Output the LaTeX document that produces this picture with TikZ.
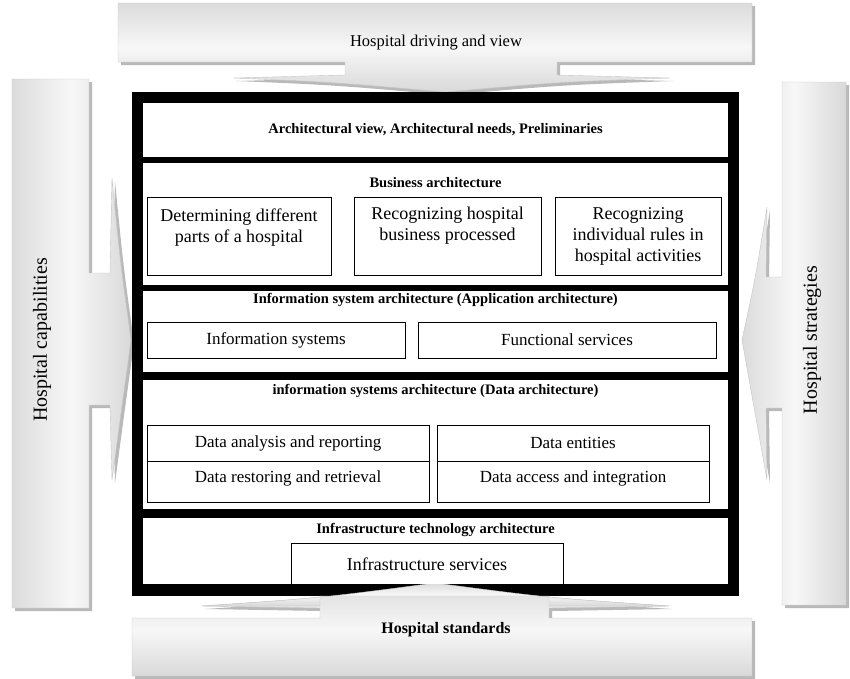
\documentclass[tikz,border=0pt]{standalone}
\usepackage{fontspec}
\setmainfont{Liberation Serif}
\usetikzlibrary{positioning}

\tikzset{
  bigarrow/.style={left color=gray!28,right color=gray!30,middle color=gray!6,draw=gray!45,line width=0.4pt},
  arrowshadow/.style={fill=gray!55,draw=none},
  panel/.style={fill=white,draw=none},
  subbox/.style={draw=black,line width=0.6pt,fill=white},
  ttl/.style={font=\fontsize{14.5}{16}\selectfont\bfseries,inner sep=0pt},
  boxtxt/.style={font=\fontsize{18}{21}\selectfont,align=center,inner sep=0pt},
  datatxt/.style={font=\fontsize{17}{19}\selectfont,inner sep=0pt},
  sidetxt/.style={font=\fontsize{20}{22}\selectfont,inner sep=0pt}
}

\begin{document}
\begin{tikzpicture}[x=1pt,y=-1pt]
	\useasboundingbox (0,0) rectangle (850,678);
	
	% driving arrow (top)
	\def\toparrow{(118,3) -- (752,3) -- (752,62) -- (557,62) -- (557,75) -- (670,78) .. controls (560,82) .. (445,92) .. controls (330,82) .. (233,78) -- (345,75) -- (345,62) -- (118,62) -- cycle}
	\fill[arrowshadow,xshift=3pt,yshift=-3pt] \toparrow;
	\path[bigarrow,shading angle=0] \toparrow;
	\node[sidetxt,font=\fontsize{16.5}{18}\selectfont] (drive) at (436,43) {Hospital driving and view};
	
	% capabilities arrow (left)
	\def\leftarrow{(12,79) -- (89,79) -- (89,273) -- (110,273) -- (112,178) .. controls (120,260) .. (131,340) .. controls (120,420) .. (112,480) -- (110,405) -- (89,405) -- (89,608) -- (12,608) -- cycle}
	\fill[arrowshadow,xshift=3pt,yshift=-3pt] \leftarrow;
	\path[bigarrow,shading angle=90] \leftarrow;
	\node[sidetxt,rotate=90] (capab) at (42,340) {Hospital capabilities};
	
	% strategies arrow (right)
	\def\rightarrow{(846,82) -- (782,82) -- (782,277) -- (766,277) -- (767,207) .. controls (755,280) .. (742,340) .. controls (755,410) .. (767,480) -- (766,408) -- (782,408) -- (782,605) -- (846,605) -- cycle}
	\fill[arrowshadow,xshift=3pt,yshift=-3pt] \rightarrow;
	\path[bigarrow,shading angle=90] \rightarrow;
	\node[sidetxt,rotate=90] (strat) at (812,340) {Hospital strategies};
	
	% standards arrow (bottom)
	\def\botarrow{(132,618) -- (320,618) -- (320,608) -- (202,606) .. controls (320,598) .. (435,583) .. controls (550,598) .. (669,606) -- (549,608) -- (549,618) -- (752,618) -- (752,676) -- (132,676) -- cycle}
	\fill[arrowshadow,xshift=3pt,yshift=-3pt] \botarrow;
	\path[bigarrow,shading angle=0] \botarrow;
	
	% black frame with the layers
	\fill[black] (132,92) rectangle (739,596);
	\fill[panel] (143,103) rectangle (728,157);
	\fill[panel] (143,163) rectangle (728,285);
	\fill[panel] (143,291) rectangle (728,372);
	\fill[panel] (143,380) rectangle (728,509);
	\fill[panel] (143,518) rectangle (728,584);
	\path[bigarrow,shading angle=0] (320,596) -- (320,606) -- (202,606) .. controls (320,598) .. (435,583) .. controls (550,598) .. (669,606) -- (549,606) -- (549,596) -- cycle;
	\node[ttl,font=\fontsize{16}{18}\selectfont\bfseries] (stand) at (446,630) {Hospital standards};
	
	% preliminaries
	\node[ttl] (prelim) at (435.5,130) {Architectural view, Architectural needs, Preliminaries};
	
	% business
	\node[ttl] (busi) at (435.5,183) {Business architecture};
	\draw[subbox] (147,197) rectangle (331,275);
	\draw[subbox] (354,197) rectangle (541,275);
	\draw[subbox] (555,197) rectangle (721,275);
	\node[boxtxt] (parts) at (239,228) {Determining different\\parts of a hospital};
	\node[boxtxt] (proc) at (447.5,226) {Recognizing hospital\\business processed};
	\node[boxtxt] (rules) at (638,236) {Recognizing\\individual rules in\\hospital activities};
	
	% application
	\node[ttl] (appl) at (435.5,300) {Information system architecture (Application architecture)};
	\draw[subbox] (147,322) rectangle (405,358);
	\draw[subbox] (418,322) rectangle (716,358);
	\node[datatxt] (infsys) at (276,340) {Information systems};
	\node[datatxt] (funcs) at (567,340) {Functional services};
	
	% data
	\node[ttl] (data) at (435.5,391) {information systems architecture (Data architecture)};
	\draw[subbox] (147,425) rectangle (429,502);
	\draw[subbox] (147,461) -- (429,461);
	\draw[subbox] (437,425) rectangle (709,502);
	\draw[subbox] (437,461) -- (709,461);
	\node[datatxt] (anal) at (288,443) {Data analysis and reporting};
	\node[datatxt] (restor) at (288,478) {Data restoring and retrieval};
	\node[datatxt] (entit) at (573,443) {Data entities};
	\node[datatxt] (access) at (573,478) {Data access and integration};
	
	% infrastructure
	\node[ttl] (infra) at (435.5,530) {Infrastructure technology architecture};
	\draw[subbox] (291,584) -- (291,543) -- (563,543) -- (563,584);
	\node[boxtxt] (infserv) at (427,564) {Infrastructure services};
	
\end{tikzpicture}
\end{document}
